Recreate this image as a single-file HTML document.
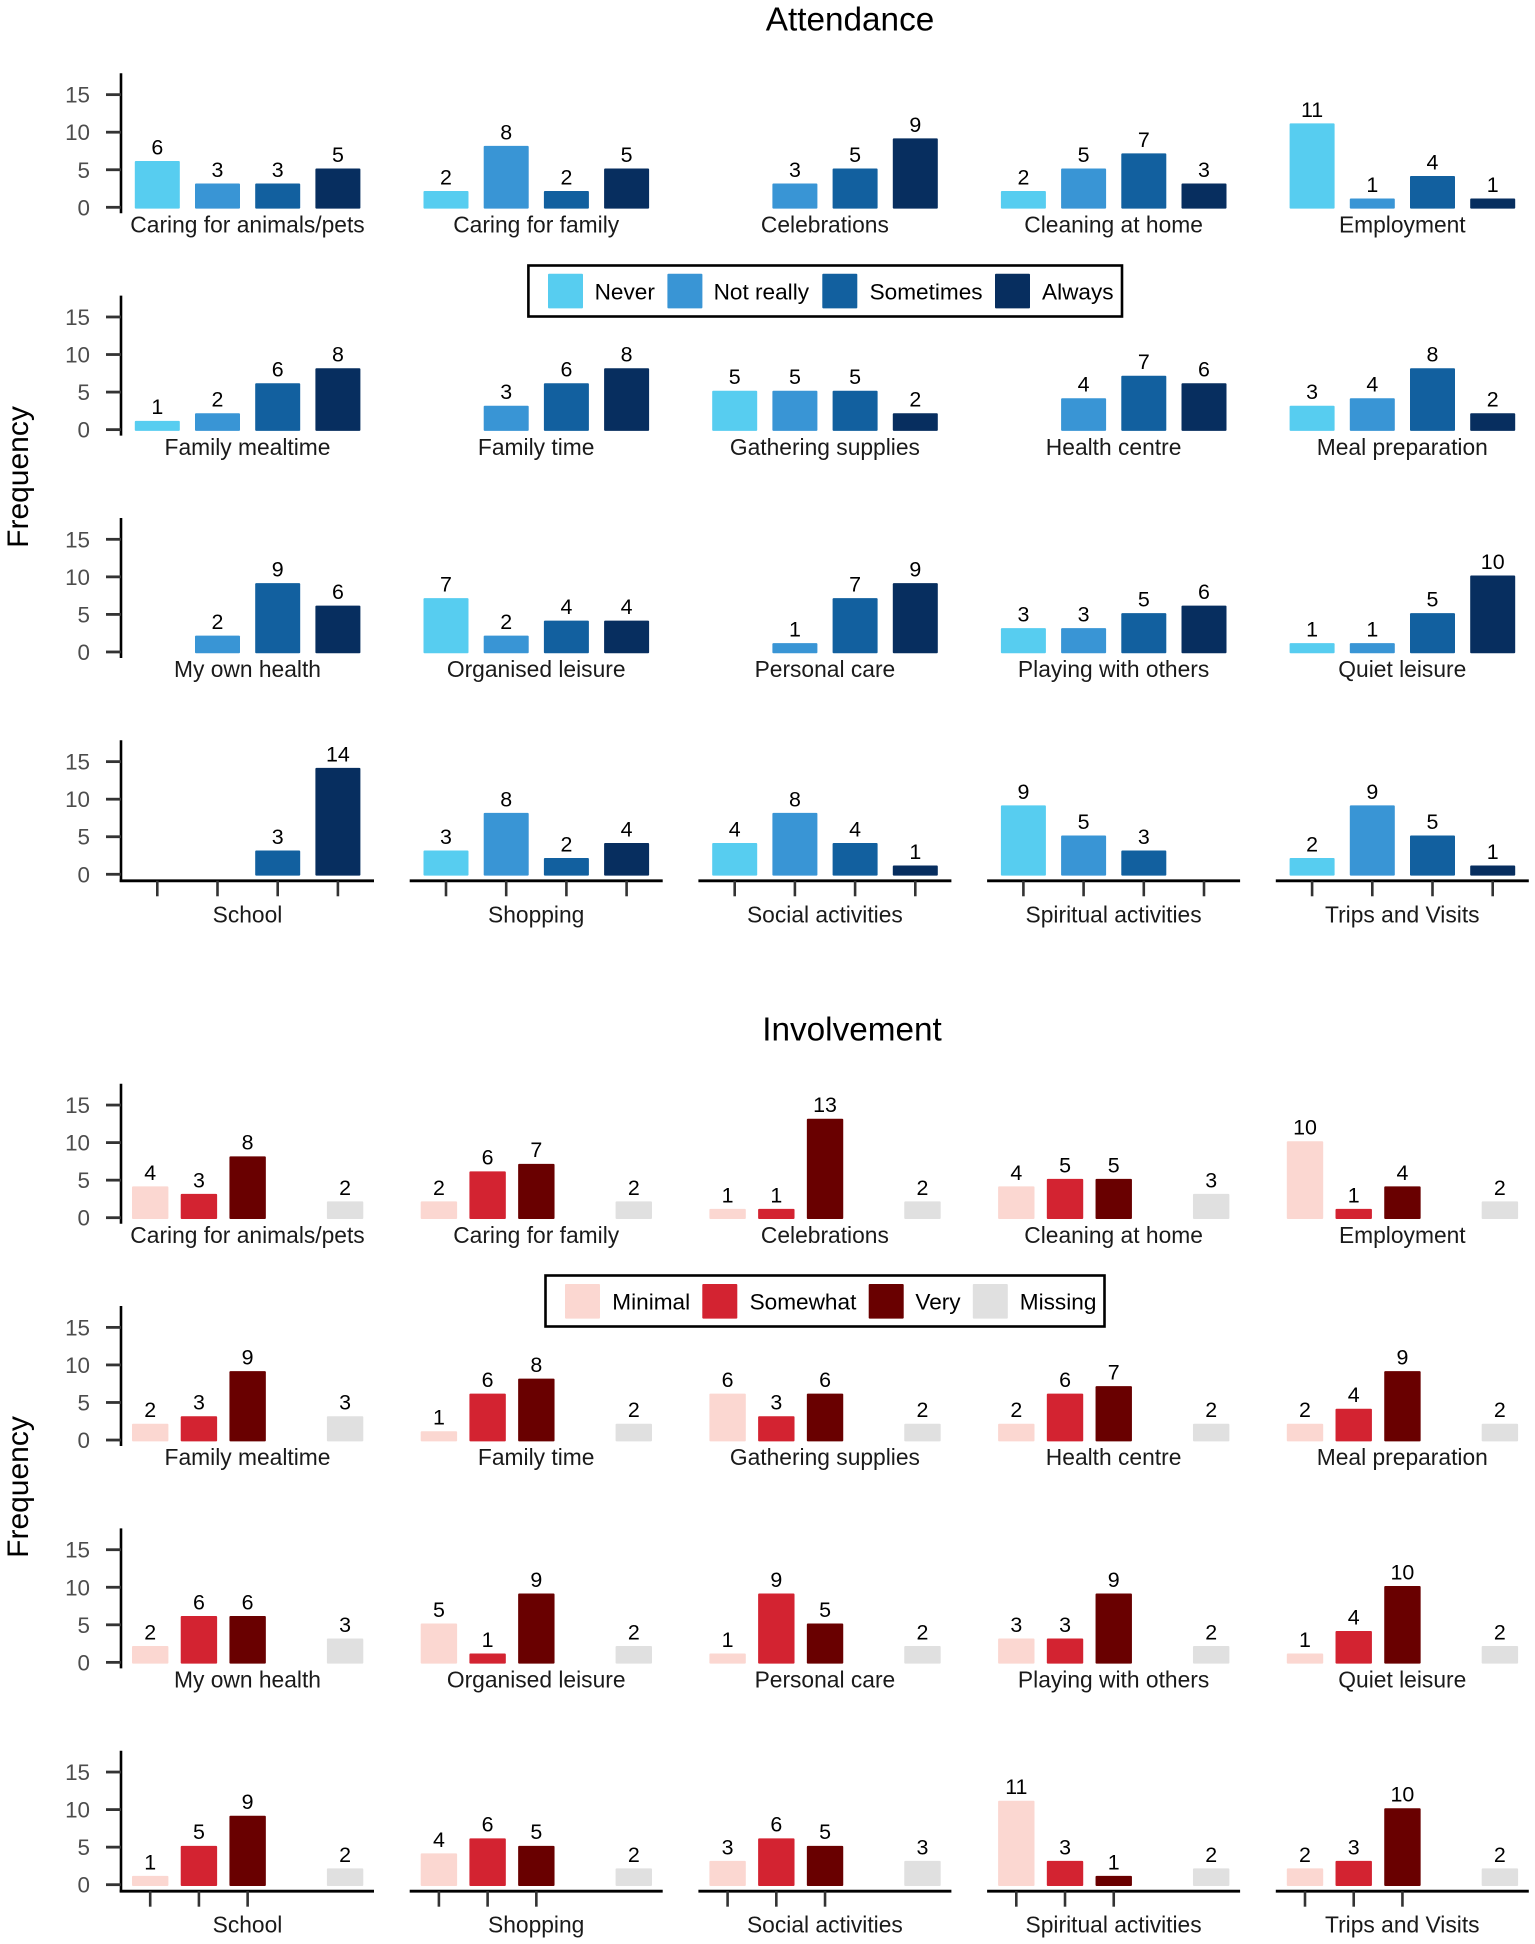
<!DOCTYPE html>
<html lang="en">
<head>
<meta charset="utf-8">
<title>Attendance and Involvement frequency by activity</title>
<style>
  html, body { margin: 0; padding: 0; background: #fff; }
  body { width: 1535px; height: 1944px; overflow: hidden; }
  svg { display: block; font-family: "Liberation Sans", Arial, sans-serif; }
  .title { font-size: 33.3px; fill: #000; text-anchor: middle; }
  .ylab { font-size: 30px; fill: #000; text-anchor: middle; }
  .legend-text { font-size: 22.6px; fill: #000; }
  .tick-label { font-size: 22.4px; fill: #4d4d4d; text-anchor: end; }
  .cat-label { font-size: 22.8px; fill: #1a1a1a; text-anchor: middle; }
  .val-label { font-size: 21.4px; fill: #000; text-anchor: middle; }
</style>
</head>
<body>
<svg id="chart" xmlns="http://www.w3.org/2000/svg" width="1535" height="1944" viewBox="0 0 1535 1944">
  <rect x="0" y="0" width="1535" height="1944" fill="#ffffff"/>

  <text class="title" x="850" y="30.7">Attendance</text>
  <text class="title" x="852" y="1040.7">Involvement</text>

  <text class="ylab" transform="translate(28,477) rotate(-90)">Frequency</text>
  <text class="ylab" transform="translate(28,1487) rotate(-90)">Frequency</text>

  <g>
    <rect x="528.4" y="265.5" width="593.6" height="51" fill="#fff" stroke="#000" stroke-width="2.6"/>
    <rect x="548" y="273.8" width="35" height="34.6" rx="1" fill="#57cdf0"/>
    <text class="legend-text" x="594.6" y="299.3">Never</text>
    <rect x="667.4" y="273.8" width="35" height="34.6" rx="1" fill="#3995d5"/>
    <text class="legend-text" x="713.6" y="299.3">Not really</text>
    <rect x="822.3" y="273.8" width="35" height="34.6" rx="1" fill="#12609f"/>
    <text class="legend-text" x="869.6" y="299.3">Sometimes</text>
    <rect x="995" y="273.8" width="35" height="34.6" rx="1" fill="#072e5f"/>
    <text class="legend-text" x="1042" y="299.3">Always</text>
  </g>

  <g>
    <rect x="545.5" y="1275.5" width="559" height="51" fill="#fff" stroke="#000" stroke-width="2.6"/>
    <rect x="565" y="1284" width="35" height="34.6" rx="1" fill="#fbd7d1"/>
    <text class="legend-text" x="612.3" y="1309.3">Minimal</text>
    <rect x="702.3" y="1284" width="35" height="34.6" rx="1" fill="#d32331"/>
    <text class="legend-text" x="749.6" y="1309.3">Somewhat</text>
    <rect x="868.7" y="1284" width="35" height="34.6" rx="1" fill="#690000"/>
    <text class="legend-text" x="915.4" y="1309.3">Very</text>
    <rect x="972.8" y="1284" width="35" height="34.6" rx="1" fill="#e0e0e0"/>
    <text class="legend-text" x="1019.8" y="1309.3">Missing</text>
  </g>
</svg>

<script>
// ---- data ----
const categories = [
  "Caring for animals/pets", "Caring for family", "Celebrations", "Cleaning at home", "Employment",
  "Family mealtime", "Family time", "Gathering supplies", "Health centre", "Meal preparation",
  "My own health", "Organised leisure", "Personal care", "Playing with others", "Quiet leisure",
  "School", "Shopping", "Social activities", "Spiritual activities", "Trips and Visits"
];
const yTicks = [0, 5, 10, 15];

const never     = [6, 2, 0, 2, 11,  1, 0, 5, 0, 3,  0, 7, 0, 3, 1,  0, 3, 4, 9, 2];
const notReally = [3, 8, 3, 5, 1,   2, 3, 5, 4, 4,  2, 2, 1, 3, 1,  0, 8, 8, 5, 9];
const sometimes = [3, 2, 5, 7, 4,   6, 6, 5, 7, 8,  9, 4, 7, 5, 5,  3, 2, 4, 3, 5];
const always    = [5, 5, 9, 3, 1,   8, 8, 2, 6, 2,  6, 4, 9, 6, 10, 14, 4, 1, 0, 1];

const minimal  = [4, 2, 1, 4, 10,  2, 1, 6, 2, 2,  2, 5, 1, 3, 1,  1, 4, 3, 11, 2];
const somewhat = [3, 6, 1, 5, 1,   3, 6, 3, 6, 4,  6, 1, 9, 3, 4,  5, 6, 6, 3, 3];
const very     = [8, 7, 13, 5, 4,  9, 8, 6, 7, 9,  6, 9, 5, 9, 10, 9, 5, 5, 1, 10];
const missing  = [2, 2, 2, 3, 2,   3, 2, 2, 2, 2,  3, 2, 2, 2, 2,  2, 2, 3, 2, 2];

// ---- layout ----
const NS = "http://www.w3.org/2000/svg";
const svg = document.getElementById("chart");
const COLS = 5, ROWS = 4;
const PANEL_LEFT = 121, PANEL_STEP_X = 288.7, PANEL_W = 253;
const ROW_STEP = 222.33, UNIT = 7.51;

const sections = [
  {
    key: "attendance", zeroY: 207.3,
    series: [
      { key: "never", values: never, color: "#57cdf0", slot: 0 },
      { key: "not-really", values: notReally, color: "#3995d5", slot: 1 },
      { key: "sometimes", values: sometimes, color: "#12609f", slot: 2 },
      { key: "always", values: always, color: "#072e5f", slot: 3 }
    ],
    firstCenter: 36.3, step: 60.2, barWidth: 45, tickSlots: [0, 1, 2, 3]
  },
  {
    key: "involvement", zeroY: 1217.7,
    series: [
      { key: "minimal", values: minimal, color: "#fbd7d1", slot: 0 },
      { key: "somewhat", values: somewhat, color: "#d32331", slot: 1 },
      { key: "very", values: very, color: "#690000", slot: 2 },
      { key: "missing", values: missing, color: "#e0e0e0", slot: 4 }
    ],
    firstCenter: 29.2, step: 48.72, barWidth: 36.4, tickSlots: [0, 1, 2]
  }
];

function make(tag, attrs, parent) {
  const node = document.createElementNS(NS, tag);
  for (const k in attrs) node.setAttribute(k, attrs[k]);
  parent.appendChild(node);
  return node;
}
function slug(s) { return s.toLowerCase().replace(/[^a-z0-9]+/g, "-"); }

// axis functions
function panelX(col) { return PANEL_LEFT + col * PANEL_STEP_X; }
function rowZero(section, row) { return section.zeroY + row * ROW_STEP; }
function yPos(section, row, value) { return rowZero(section, row) - value * UNIT; }
function xPos(section, col, slot) { return panelX(col) + section.firstCenter + slot * section.step; }

sections.forEach(function (section) {
  categories.forEach(function (cat, idx) {
    const col = idx % COLS;
    const row = Math.floor(idx / COLS);
    const zero = rowZero(section, row);
    const panelName = section.key + "-" + slug(cat);

    const g = make("g", {}, svg);
    
    

    // y axis on the first column
    if (col === 0) {
      const yLine = make("line", {
        x1: PANEL_LEFT, x2: PANEL_LEFT, y1: zero - 134, y2: zero + (row === ROWS - 1 ? 7.7 : 6),
        stroke: "#000", "stroke-width": 2.6
      }, g);
      
      

      yTicks.forEach(function (t) {
        const ty = yPos(section, row, t);
        const tick = make("line", {
          x1: PANEL_LEFT - 15, x2: PANEL_LEFT, y1: ty, y2: ty, stroke: "#333", "stroke-width": 2.8
        }, g);
        
        

        const lab = make("text", { class: "tick-label", x: 90, y: ty + 8 }, g);
        lab.textContent = String(t);
        
        
      });
    }

    // bars and value labels
    section.series.forEach(function (s) {
      const v = s.values[idx];
      if (!v) return;
      const cx = xPos(section, col, s.slot);
      const top = yPos(section, row, v);
      const bar = make("rect", {
        x: cx - section.barWidth / 2, y: top - 1.3,
        width: section.barWidth, height: zero - top + 2.6,
        rx: 1, fill: s.color
      }, g);
      
      

      const val = make("text", { class: "val-label", x: cx, y: top - 7.9 }, g);
      val.textContent = String(v);
      
      
    });

    // x axis on the bottom row
    const bottom = row === ROWS - 1;
    if (bottom) {
      const axisY = zero + 6.5;
      const xLine = make("line", {
        x1: panelX(col) - (col === 0 ? 1.3 : 0), x2: panelX(col) + PANEL_W, y1: axisY, y2: axisY,
        stroke: "#000", "stroke-width": 2.8
      }, g);
      
      

      section.tickSlots.forEach(function (slot) {
        const tx = xPos(section, col, slot);
        const tick = make("line", {
          x1: tx, x2: tx, y1: axisY, y2: axisY + 15.5, stroke: "#333", "stroke-width": 2.6
        }, g);
        
        
      });
    }

    const catLabel = make("text", {
      class: "cat-label", x: panelX(col) + PANEL_W / 2, y: zero + (bottom ? 48 : 25.2)
    }, g);
    catLabel.textContent = cat;
    
    
  });
});
</script>
</body>
</html>
